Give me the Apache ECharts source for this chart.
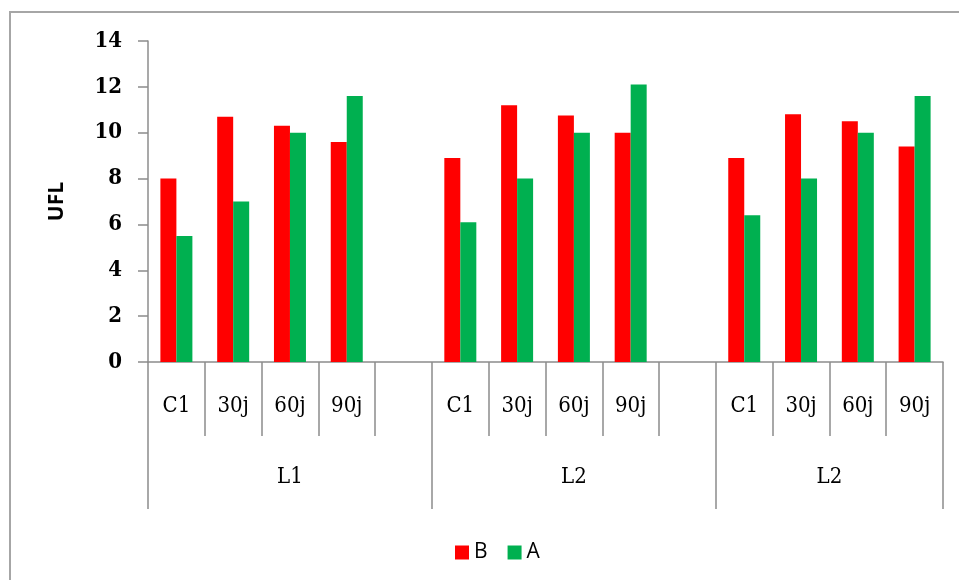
<!DOCTYPE html>
<html>
<head>
<meta charset="utf-8">
<script src="https://cdn.jsdelivr.net/npm/echarts@6/dist/echarts.min.js"></script>
<style>
  html, body { margin: 0; padding: 0; background: #fff; }
  #chart { width: 959px; height: 580px; }
</style>
</head>
<body>
<div id="chart"></div>
<script>
// Groups along the bottom axis and the sampling points inside each group
const groupNames = ['L1', 'L2', 'L2'];
const groupSlots = [5, 5, 4];          // category slots per group (a blank spacer closes the first two)
const stageNames = ['C1', '30j', '60j', '90j'];

// UFL values per slot (null = spacer slot)
const seriesB = [8.0, 10.7, 10.3, 9.6, null, 8.9, 11.2, 10.75, 10.0, null, 8.9, 10.8, 10.5, 9.4];
const seriesA = [5.5, 7.0, 10.0, 11.6, null, 6.1, 8.0, 10.0, 12.1, null, 6.4, 8.0, 10.0, 11.6];

const yTicks = { min: 0, max: 14, interval: 2 };

// Level-1 categories: the stage names, plus an empty spacer slot where a group has one
const stageCats = [];
groupSlots.forEach(n => {
  for (let i = 0; i < n; i++) stageCats.push(i < stageNames.length ? stageNames[i] : '');
});

// Level-2 axis runs over half-slot points so group labels can sit at any group centre
const halfPoints = stageCats.length * 2 + 1;
const groupCats = new Array(halfPoints).fill('');
const groupEdges = [0];
const groupCentres = [];
let start = 0;
groupSlots.forEach((n, g) => {
  const centre = 2 * start + n;
  groupCats[centre] = groupNames[g];
  groupCentres.push(centre);
  start += n;
  groupEdges.push(2 * start);
});

const axisGrey = '#8c8c8c';
const tickFont = "'DejaVu Serif Condensed', 'DejaVu Serif', serif";
const sansFont = "'Open Sans', sans-serif";

const chart = echarts.init(document.getElementById('chart'), null, { renderer: 'canvas' });
chart.setOption({
  animation: false,
  backgroundColor: '#ffffff',
  graphic: [{
    type: 'rect',
    shape: { x: 10, y: 12, width: 1000, height: 1000 },
    style: { fill: 'none', stroke: '#a6a6a6', lineWidth: 2 },
    silent: true
  }],
  grid: { left: 148, right: 16, top: 41, bottom: 218, containLabel: false },
  legend: {
    data: ['B', 'A'],
    left: 450,
    top: 537,
    icon: 'rect',
    itemWidth: 14,
    itemHeight: 14,
    itemGap: 20,
    itemTextGap: 5,
    textStyle: { fontFamily: sansFont, fontSize: 21, color: '#000' }
  },
  xAxis: [
    {
      type: 'category',
      data: stageCats,
      position: 'bottom',
      axisLine: { show: true, lineStyle: { color: axisGrey, width: 1.5 } },
      axisTick: { show: true, interval: 0, length: 74, lineStyle: { color: axisGrey, width: 1.5 } },
      axisLabel: {
        interval: 0, margin: 33,
        fontFamily: tickFont, fontSize: 22, color: '#000'
      },
      splitLine: { show: false }
    },
    {
      type: 'category',
      data: groupCats,
      boundaryGap: false,
      position: 'bottom',
      offset: 0,
      axisLine: { show: false },
      axisTick: {
        show: true, length: 147,
        interval: (idx) => groupEdges.includes(idx),
        lineStyle: { color: axisGrey, width: 1.5 }
      },
      axisLabel: {
        interval: (idx) => groupCentres.includes(idx),
        margin: 104,
        fontFamily: tickFont, fontSize: 22, color: '#000'
      },
      splitLine: { show: false }
    }
  ],
  yAxis: {
    type: 'value',
    min: yTicks.min,
    max: yTicks.max,
    interval: yTicks.interval,
    name: 'UFL',
    nameLocation: 'middle',
    nameRotate: 90,
    nameGap: 80,
    nameTextStyle: { fontFamily: sansFont, fontWeight: 'bold', fontSize: 21, color: '#000' },
    axisLine: { show: true, lineStyle: { color: axisGrey, width: 1.5 } },
    axisTick: { show: true, length: 10, lineStyle: { color: axisGrey, width: 1.5 } },
    axisLabel: { margin: 26, fontFamily: tickFont, fontWeight: 'bold', fontSize: 22, color: '#000' },
    splitLine: { show: false }
  },
  series: [
    {
      name: 'B', type: 'bar', xAxisIndex: 0, data: seriesB,
      barWidth: 16, barGap: '0%',
      itemStyle: { color: '#ff0000' }
    },
    {
      name: 'A', type: 'bar', xAxisIndex: 0, data: seriesA,
      barWidth: 16, barGap: '0%',
      itemStyle: { color: '#00b050' }
    }
  ]
});
</script>
</body>
</html>
